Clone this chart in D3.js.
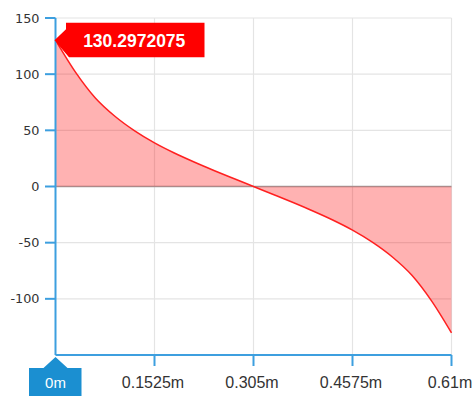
<!DOCTYPE html>
<html>
<head>
<meta charset="utf-8">
<script src="https://cdn.jsdelivr.net/npm/d3@7"></script>
<style>
  body { margin: 0; background: #fff; }
  svg { display: block; }
</style>
</head>
<body>
<svg id="chart" width="474" height="396"></svg>
<script>
// Distance along the member (m) and the plotted quantity at each station
const positions = [0, 0.0305, 0.061, 0.0915, 0.122, 0.1525, 0.183, 0.2135, 0.244, 0.2745,
                   0.305, 0.3355, 0.366, 0.3965, 0.427, 0.4575, 0.488, 0.5185, 0.549, 0.5795, 0.61];
const values = [130.2972075, 102, 79, 62.5, 49.5, 38.8, 29.8, 21.8, 14.3, 7.1,
                0, -7.1, -14.3, -21.8, -29.8, -38.8, -49.5, -62.5, -79, -102, -130.2972075];

const xTickValues = [0, 0.1525, 0.305, 0.4575, 0.61];
const xTickLabels = ["0m", "0.1525m", "0.305m", "0.4575m", "0.61m"];
const yTickValues = [-100, -50, 0, 50, 100, 150];
const yGridValues = [-100, -50, 50, 100, 150];
const calloutIndex = 0;

const svg = d3.select("#chart");
const axisBlue = "#3d9fdf";
const badgeBlue = "#1b8fd1";

const x = d3.scaleLinear().domain([0, 0.61]).range([55.5, 451.5]);
const y = d3.scaleLinear().domain([-150, 150]).range([355, 18]);

// grid
const grid = svg.append("g").attr("stroke", "#e4e4e4").attr("stroke-width", 1.2);
grid.selectAll("line.h").data(yGridValues).join("line")
  .attr("x1", x(0)).attr("x2", x(0.61))
  .attr("y1", d => y(d)).attr("y2", d => y(d));
grid.selectAll("line.v").data(xTickValues.slice(1)).join("line")
  .attr("x1", d => x(d)).attr("x2", d => x(d))
  .attr("y1", y(150)).attr("y2", y(-150));

// zero baseline
svg.append("line")
  .attr("x1", x(0)).attr("x2", x(0.61))
  .attr("y1", y(0)).attr("y2", y(0))
  .attr("stroke", "#a0a0a0").attr("stroke-width", 1.5);

const pts = positions.map((p, i) => [p, values[i]]);

// filled region between the curve and zero
svg.append("path")
  .datum(pts)
  .attr("d", d3.area().curve(d3.curveMonotoneX)
    .x(d => x(d[0])).y0(y(0)).y1(d => y(d[1])))
  .attr("fill", "#ff0000").attr("fill-opacity", 0.3);

// curve
svg.append("path")
  .datum(pts)
  .attr("d", d3.line().curve(d3.curveMonotoneX)
    .x(d => x(d[0])).y(d => y(d[1])))
  .attr("fill", "none").attr("stroke", "#ff2020").attr("stroke-width", 1.5);

// y axis
const yAxis = svg.append("g");
yAxis.append("line")
  .attr("x1", x(0)).attr("x2", x(0)).attr("y1", y(150)).attr("y2", y(-150))
  .attr("stroke", axisBlue).attr("stroke-width", 2);
yAxis.selectAll("line.tick").data(yTickValues).join("line")
  .attr("x1", x(0) - 10.5).attr("x2", x(0))
  .attr("y1", d => y(d)).attr("y2", d => y(d))
  .attr("stroke", axisBlue).attr("stroke-width", 2);
yAxis.selectAll("text").data(yTickValues).join("text")
  .attr("x", 39.5).attr("y", d => y(d))
  .attr("dy", "0.36em")
  .attr("text-anchor", "end")
  .attr("font-family", "'DejaVu Sans', sans-serif")
  .attr("font-size", 12.8)
  .attr("fill", "#333")
  .text(d => d);

// x axis
const xAxis = svg.append("g");
xAxis.append("line")
  .attr("x1", x(0)).attr("x2", x(0.61)).attr("y1", y(-150)).attr("y2", y(-150))
  .attr("stroke", axisBlue).attr("stroke-width", 2);
xAxis.selectAll("line.tick").data(xTickValues.slice(1)).join("line")
  .attr("x1", d => x(d)).attr("x2", d => x(d))
  .attr("y1", y(-150)).attr("y2", y(-150) + 11)
  .attr("stroke", axisBlue).attr("stroke-width", 2);
xAxis.selectAll("text").data(xTickValues.slice(1)).join("text")
  .attr("x", d => x(d) - 1.5).attr("y", 388)
  .attr("text-anchor", "middle")
  .attr("font-family", "'Liberation Sans', Arial, sans-serif")
  .attr("font-size", 16)
  .attr("fill", "#333")
  .text((d, i) => xTickLabels[i + 1]);

// badge marking the start of the x axis
const bx = x(xTickValues[0]), by = y(-150);
svg.append("path")
  .attr("d", `M${bx},${by + 2} L${bx + 12},${by + 13} L${bx + 26},${by + 13} L${bx + 26},400 L${bx - 26.5},400 L${bx - 26.5},${by + 13} L${bx - 12},${by + 13} Z`)
  .attr("fill", badgeBlue);
svg.append("text")
  .attr("x", bx).attr("y", 388)
  .attr("text-anchor", "middle")
  .attr("font-family", "'Liberation Sans', Arial, sans-serif")
  .attr("font-size", 15)
  .attr("fill", "#fff")
  .text(xTickLabels[0]);

// value callout at the first station
const tipX = x(positions[calloutIndex]), tipY = y(values[calloutIndex]);
const boxL = tipX + 10.5, boxR = tipX + 149, boxT = tipY - 17.5, boxB = tipY + 17;
svg.append("path")
  .attr("d", `M${tipX - 1},${tipY} L${boxL},${tipY - 11} L${boxL},${boxT} L${boxR},${boxT} L${boxR},${boxB} L${boxL + 3},${boxB} Z`)
  .attr("fill", "#ff0000");
svg.append("text")
  .attr("x", (boxL + boxR) / 2 - 1).attr("y", tipY + 7)
  .attr("text-anchor", "middle")
  .attr("font-family", "'Liberation Sans', Arial, sans-serif")
  .attr("font-weight", "bold")
  .attr("font-size", 17.5)
  .attr("fill", "#fff")
  .text(values[calloutIndex]);
</script>
</body>
</html>
